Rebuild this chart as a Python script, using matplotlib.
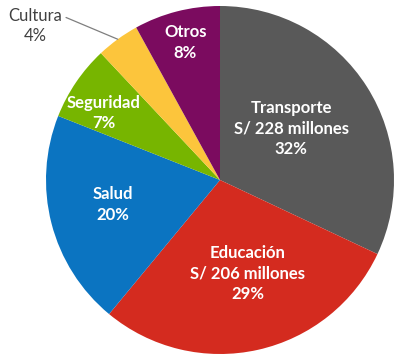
import numpy as np
import matplotlib.pyplot as plt

categories = ["Transporte", "Educación", "Salud", "Seguridad", "Cultura", "Otros"]
shares = [32, 29, 20, 7, 4, 8]
amounts = ["S/ 228 millones", "S/ 206 millones", None, None, None, None]
colors = ["#595959", "#d42b1f", "#0b74c1", "#77b500", "#fcc53c", "#7b0b5f"]

# label centres (data coords, pie radius = 1)
label_pos = [(0.41, 0.295), (0.16, -0.535), (-0.615, -0.14), (-0.67, 0.385), None, (-0.20, 0.79)]

plt.rcParams['font.family'] = ['Lato', 'DejaVu Sans']

fig = plt.figure(figsize=(4, 3.59), dpi=100)
ax = fig.add_axes([46 / 400, 5 / 359, 348 / 400, 348 / 359])

wedges, _ = ax.pie(shares, colors=colors, startangle=90, counterclock=False,
                   radius=1, wedgeprops=dict(linewidth=0))
ax.set_xlim(-1, 1)
ax.set_ylim(-1, 1)
ax.set_aspect('equal')

for cat, val, amt, pos in zip(categories, shares, amounts, label_pos):
    if pos is None:
        continue
    lines = [cat] + ([amt] if amt else []) + [f"{val}%"]
    ax.text(pos[0], pos[1], "\n".join(lines), ha='center', va='center',
            color='white', fontsize=12, fontweight='bold', linespacing=1.35)

# Cultura: outside label with leader line
w = wedges[4]
mid = np.deg2rad((w.theta1 + w.theta2) / 2)
tip = (np.cos(mid), np.sin(mid))
ax.annotate(f"{categories[4]}\n{shares[4]}%", xy=tip, xytext=(-1.063, 0.885),
            ha='center', va='center', multialignment='center',
            fontsize=12, color='#404040',
            linespacing=1.35, annotation_clip=False,
            arrowprops=dict(arrowstyle='-', color='#7f7f7f', lw=0.9,
                            shrinkA=1, shrinkB=0, relpos=(1.0, 0.78)))

fig.savefig("out.png", dpi=100)
